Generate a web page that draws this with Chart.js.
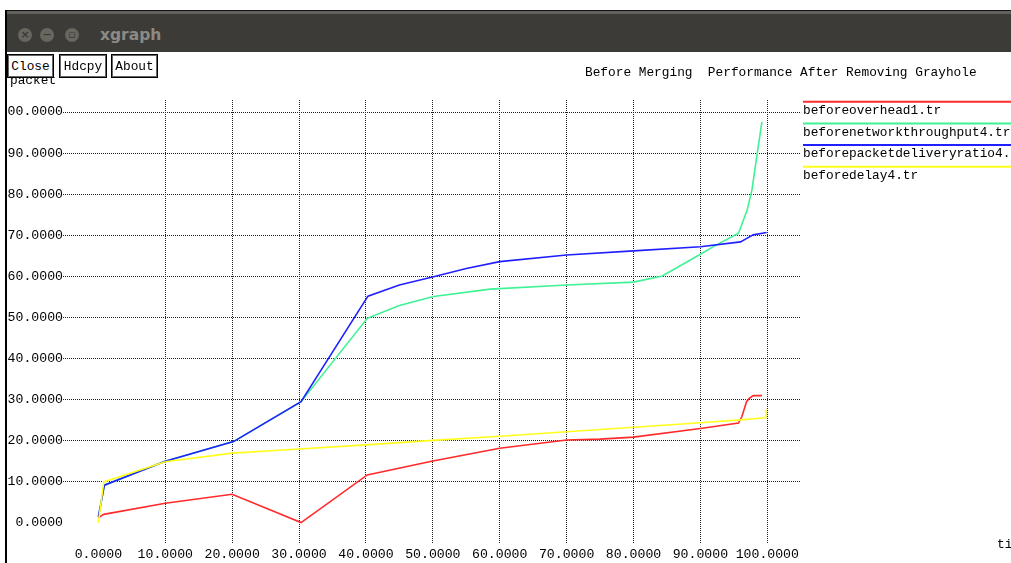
<!DOCTYPE html>
<html>
<head>
<meta charset="utf-8">
<title>xgraph</title>
<script src="https://cdn.jsdelivr.net/npm/chart.js@4/dist/chart.umd.min.js"></script>
<style>
  html, body { margin: 0; padding: 0; background: #fff; overflow: hidden; }
  body { width: 1011px; height: 563px; position: relative; font-family: "Liberation Mono", monospace; }
  #grafico { position: absolute; left: 7px; top: 0; z-index: 0; }
  .franja { position: absolute; left: 5px; top: 10px; width: 1006px; height: 3px; background: #62615d; border-top: 1px solid #111; z-index: 2; }
  .barra { position: absolute; left: 5px; top: 14px; width: 1006px; height: 38px; background: #3c3b37; z-index: 2; }
  .borde { position: absolute; left: 5px; top: 10px; width: 2px; height: 553px; background: #000; z-index: 3; }
  .circulo { position: absolute; top: 14px; width: 14px; height: 14px; border-radius: 50%; background: #67665f;
             color: #3c3b37; font: bold 11px "DejaVu Sans", sans-serif; line-height: 14px; text-align: center; }
  .nombre { position: absolute; left: 95px; top: 12px; color: #8c8a84; font: bold 15.5px "DejaVu Sans", sans-serif; }
  .boton { position: absolute; top: 54px; height: 24px; box-sizing: border-box; background: #fff; border: 1px solid #000;
           box-shadow: inset 0 0 0 1px #666; font: 12.8px "Liberation Mono", monospace; line-height: 23px; text-align: center;
           color: #000; z-index: 2; }
</style>
</head>
<body>
<canvas id="grafico" width="1004" height="563"></canvas>
<div class="franja"></div>
<div class="barra">
  <div class="circulo" style="left:13px;">×</div>
  <div class="circulo" style="left:35px;">−</div>
  <div class="circulo" style="left:60px;">▫</div>
  <div class="nombre">xgraph</div>
</div>
<div class="borde"></div>
<div class="boton" style="left:7px; width:47px;">Close</div>
<div class="boton" style="left:59px; width:48px;">Hdcpy</div>
<div class="boton" style="left:111px; width:47px;">About</div>

<script>
// Ticks de los ejes
const ticksX = [0, 10, 20, 30, 40, 50, 60, 70, 80, 90, 100];
const ticksY = [0, 10, 20, 30, 40, 50, 60, 70, 80, 90, 100];

// Series
const overheadX = [0, 0.8, 10, 20, 30.3, 40.2, 50, 60, 70, 75, 80, 90, 95.7, 96.2, 96.9, 97.3, 97.9, 99.2];
const overheadY = [1.3, 2.1, 4.8, 7.0, 0.1, 11.7, 15.1, 18.2, 20.2, 20.4, 20.9, 23.0, 24.3, 25.9, 29.5, 30.3, 31.0, 31.0];

const throughputX = [0, 0.9, 10, 20.2, 30.3, 40.2, 45, 50.1, 58.6, 70, 80, 84.3, 88.5, 90, 92, 95.7, 97, 97.7, 98.5, 99.2];
const throughputY = [1.5, 9.2, 15.0, 19.8, 29.5, 49.8, 52.9, 55.1, 56.9, 57.9, 58.6, 60.1, 64.0, 65.4, 67.3, 70.5, 76.2, 81.0, 90.0, 97.6];

const pdrX = [0, 0.9, 10, 20.2, 30.3, 40.3, 45, 50.1, 55, 60, 70, 80, 90, 96, 97, 97.9, 99.9];
const pdrY = [1.5, 9.2, 15.0, 19.8, 29.5, 55.2, 57.9, 59.9, 61.9, 63.6, 65.2, 66.2, 67.2, 68.4, 69.3, 70.1, 70.7];

const delayX = [0, 0.8, 10, 20, 30, 40, 50, 60, 70, 80, 90, 96, 99.7, 99.8];
const delayY = [0, 10.0, 14.9, 17.0, 18.0, 19.0, 20.1, 21.1, 22.2, 23.3, 24.4, 25.1, 25.6, 27.7];

const nombres = ["beforeoverhead1.tr", "beforenetworkthroughput4.tr", "beforepacketdeliveryratio4.tr", "beforedelay4.tr"];
const colores = ["#ff2a2a", "#3ff294", "#2020ff", "#ffff1a"];

const titulo = "Before Merging  Performance After Removing Grayhole";
const ejeY = "packet";
const ejeX = "time";

const fuente = { family: '"Liberation Mono", monospace', size: 13.2 };

function puntos(xs, ys) {
  return xs.map((x, i) => ({ x: x, y: ys[i] }));
}

const series = [
  puntos(overheadX, overheadY),
  puntos(throughputX, throughputY),
  puntos(pdrX, pdrY),
  puntos(delayX, delayY)
];

// textos y leyenda al estilo xgraph
const textos = {
  id: "textos",
  afterDraw(chart) {
    const c = chart.ctx;
    c.save();
    c.font = '12.8px "Liberation Mono", monospace';
    c.fillStyle = "#000";
    c.textBaseline = "alphabetic";
    c.fillText(titulo, 578, 76);
    c.fillText(ejeY, 3, 83.5);
    c.fillText(ejeX, 990, 548);

    chart.data.datasets.forEach((ds, i) => {
      const y = 101.7 + i * 21.7;
      c.strokeStyle = ds.borderColor;
      c.lineWidth = 2;
      c.beginPath();
      c.moveTo(796, y);
      c.lineTo(1004, y);
      c.stroke();
      c.fillText(ds.label, 796, 114 + i * 21.7);
    });
    c.restore();
  }
};

const colorGrid = (c) => (c.tick && c.tick.value === 0) ? "rgba(0,0,0,0)" : "#222";

const ctx = document.getElementById("grafico").getContext("2d");

const chart = new Chart(ctx, {
  type: "line",
  data: {
    datasets: series.map((s, i) => ({
      label: nombres[i],
      data: s,
      borderColor: colores[i],
      backgroundColor: colores[i],
      borderWidth: 1.6,
      pointRadius: 0,
      tension: 0,
      fill: false,
      order: 4 - i
    }))
  },
  options: {
    responsive: false,
    animation: false,
    devicePixelRatio: 1,
    layout: { padding: { top: 100, right: 211, bottom: 0, left: 0 } },
    plugins: {
      legend: { display: false },
      title: { display: false },
      tooltip: { enabled: false }
    },
    scales: {
      x: {
        type: "linear",
        min: -5.29,
        max: 104.89,
        afterBuildTicks: (s) => { s.ticks = ticksX.map(v => ({ value: v })); },
        afterFit: (s) => { s.height = 20; },
        grid: { color: colorGrid, lineWidth: 1, drawTicks: false },
        border: { display: false, dash: [1, 1] },
        ticks: {
          autoSkip: false, maxRotation: 0, padding: 4, color: "#000", font: fuente,
          callback: (v) => Number(v).toFixed(4)
        }
      },
      y: {
        type: "linear",
        min: -4.87,
        max: 102.92,
        afterBuildTicks: (s) => { s.ticks = ticksY.map(v => ({ value: v })); },
        afterFit: (s) => { s.width = 56; },
        grid: { color: colorGrid, lineWidth: 1, drawTicks: false },
        border: { display: false, dash: [1, 1] },
        ticks: {
          autoSkip: false, padding: 0, color: "#000", font: fuente,
          callback: (v) => Number(v).toFixed(4)
        }
      }
    }
  },
  plugins: [textos]
});
</script>
</body>
</html>
